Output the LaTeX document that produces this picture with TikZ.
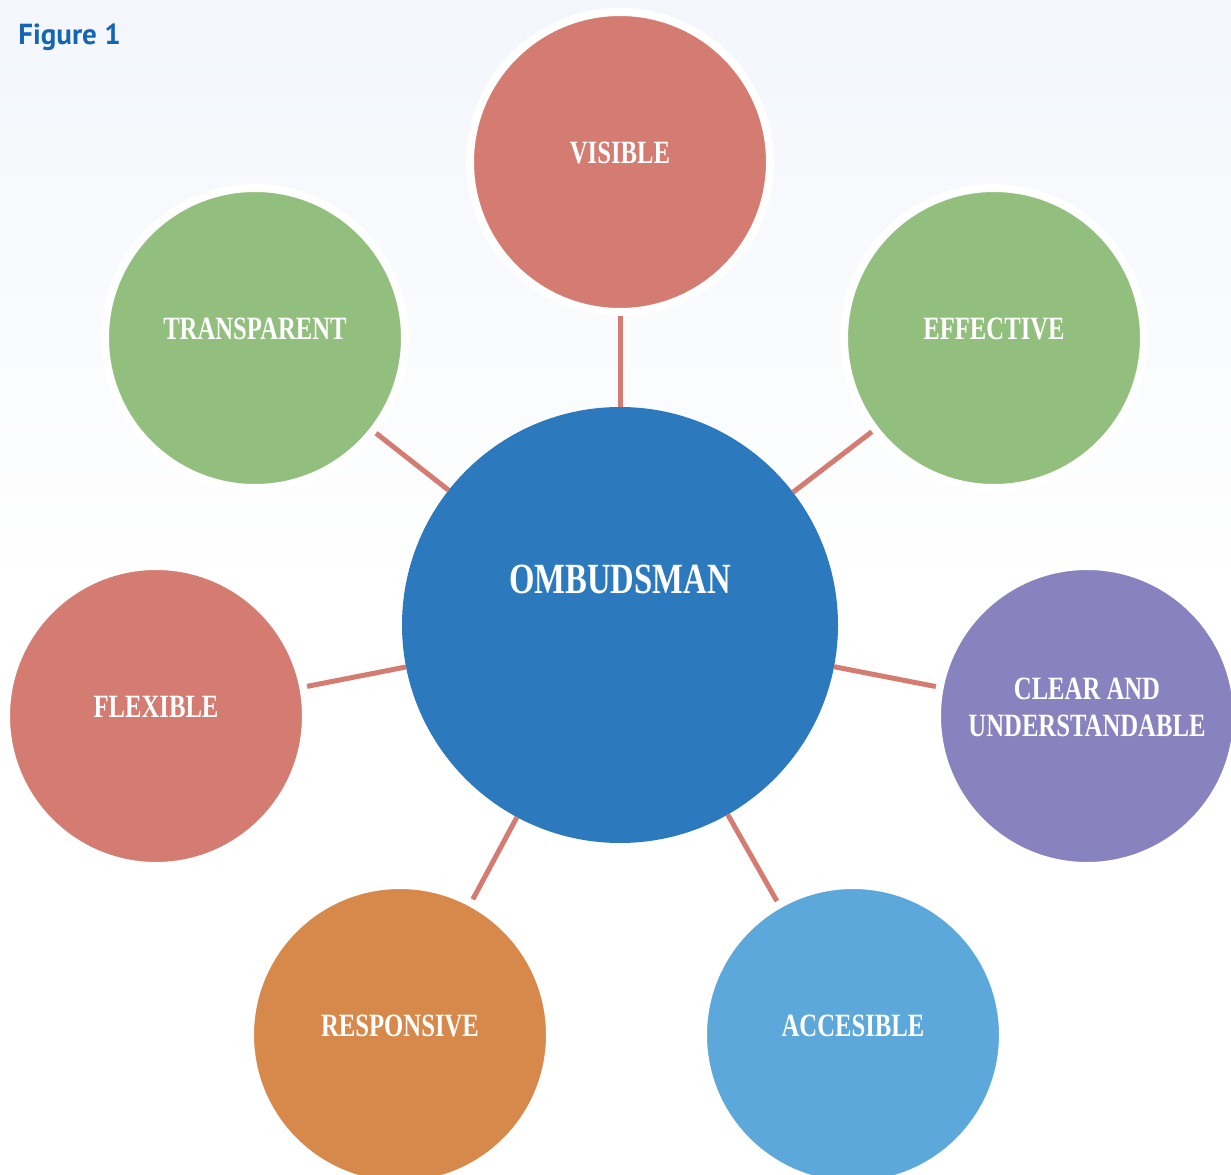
\documentclass[tikz,border=0pt]{standalone}
\usepackage{fontspec}
\usepackage{tikz}
\usetikzlibrary{calc, shapes, positioning}

\newfontfamily\bubblefont{Liberation Serif}[FakeStretch=0.76]
\newfontfamily\captionfont{PT Sans}

\definecolor{rose}{RGB}{212,124,114}
\definecolor{sage}{RGB}{146,191,126}
\definecolor{lavender}{RGB}{136,130,190}
\definecolor{sky}{RGB}{93,168,219}
\definecolor{amber}{RGB}{214,137,74}
\definecolor{hubblue}{RGB}{44,121,190}
\definecolor{mist}{RGB}{243,246,251}
\definecolor{figblue}{RGB}{20,102,178}

\tikzstyle{bubble} = [circle, draw=white, line width=0.16cm, minimum size=6cm, inner sep=0pt, outer sep=0.08cm]
\tikzstyle{hub} = [circle, fill=hubblue, minimum size=8.72cm, inner sep=0pt, outer sep=0pt]
\tikzstyle{word} = [text=white, align=center, font=\bubblefont\bfseries\fontsize{18.5}{21}\selectfont]
\tikzstyle{link} = [draw=rose, line width=0.1cm]

\begin{document}
\begin{tikzpicture}

        \clip (0, 0) rectangle (24.62, -23.5);
        \fill[white] (0, 0) rectangle (24.62, -23.5);
        \shade[top color=mist, bottom color=white] (0, 0) rectangle (24.62, -12);

        \node[anchor=base west, inner sep=0pt, text=figblue, font=\captionfont\bfseries\fontsize{16.5}{20}\selectfont] (figtitle) at (0.36, -0.9) {Figure 1};

        \node[hub] (ombudsman) at (12.4, -12.5) {};
        \node[bubble, fill=rose] (visible) at (12.4, -3.24) {};
        \node[bubble, fill=sage] (transparent) at (5.1, -6.76) {};
        \node[bubble, fill=sage] (effective) at (19.88, -6.76) {};
        \node[bubble, fill=rose] (flexible) at (3.12, -14.32) {};
        \node[bubble, fill=lavender] (clear) at (21.74, -14.32) {};
        \node[bubble, fill=amber] (responsive) at (8.0, -20.7) {};
        \node[bubble, fill=sky] (accesible) at (17.06, -20.7) {};

        \draw[link] (ombudsman) -- (visible);
        \draw[link] (ombudsman) -- (transparent);
        \draw[link] (ombudsman) -- (effective);
        \draw[link] (ombudsman) -- (flexible);
        \draw[link] (ombudsman) -- (clear);
        \draw[link] (ombudsman) -- (responsive);
        \draw[link] (ombudsman) -- (accesible);

        \node[word, font=\bubblefont\bfseries\fontsize{24.5}{28}\selectfont] (ombudsman-txt) at ([yshift=0.91cm]ombudsman.center) {OMBUDSMAN};
        \node[word] (visible-txt) at ([yshift=0.18cm]visible.center) {VISIBLE};
        \node[word] (transparent-txt) at ([yshift=0.18cm]transparent.center) {TRANSPARENT};
        \node[word] (effective-txt) at ([yshift=0.18cm]effective.center) {EFFECTIVE};
        \node[word] (flexible-txt) at ([yshift=0.18cm]flexible.center) {FLEXIBLE};
        \node[word] (clear-txt) at ([yshift=0.18cm]clear.center) {CLEAR AND\\UNDERSTANDABLE};
        \node[word] (responsive-txt) at ([yshift=0.18cm]responsive.center) {RESPONSIVE};
        \node[word] (accesible-txt) at ([yshift=0.18cm]accesible.center) {ACCESIBLE};

    \end{tikzpicture}
\end{document}
